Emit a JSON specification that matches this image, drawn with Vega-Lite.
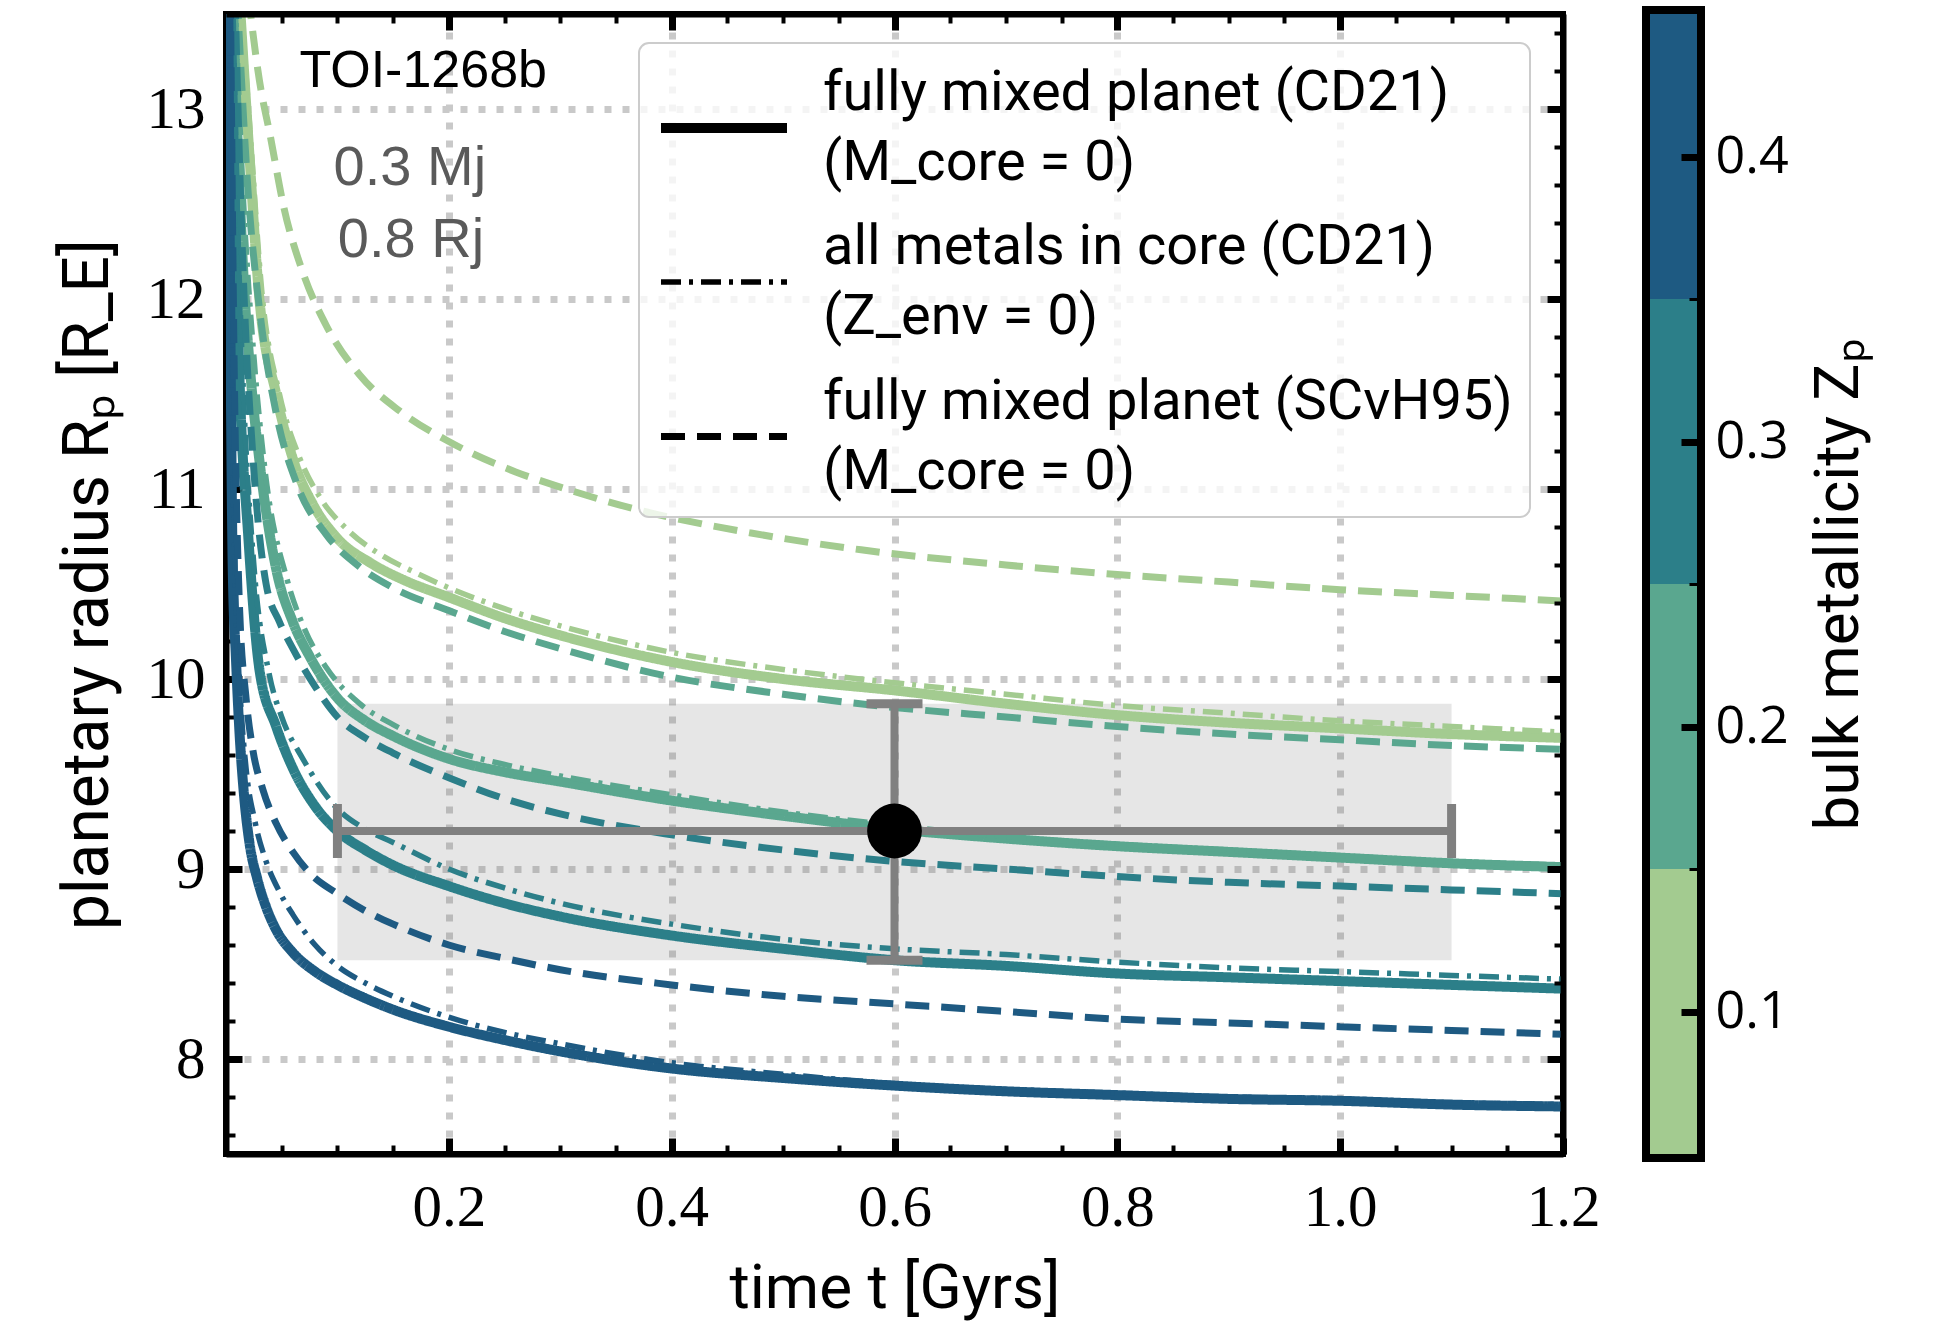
{
  "$schema": "https://vega.github.io/schema/vega-lite/v6.json",
  "padding": {"left": 53, "top": 0, "right": 5, "bottom": 5},
  "background": "white",
  "spacing": 39,
  "resolve": {"scale": {"color": "independent", "strokeDash": "independent", "strokeWidth": "independent"}, "legend": {"strokeDash": "independent", "strokeWidth": "independent", "color": "independent"}},
  "config": {
    "font": "Roboto",
    "view": {"stroke": null},
    "legend": {
      "orient": "none", "legendX": 413, "legendY": 29,
      "fillColor": "rgba(255,255,255,0.8)", "strokeColor": "#cccccc", "strokeWidth": 2, "cornerRadius": 10,
      "padding": 17, "rowPadding": 25, "labelOffset": 31,
      "labelFont": "Roboto", "labelFontSize": 56, "labelColor": "black", "labelLimit": 2000,
      "symbolType": "stroke", "symbolSize": 15876, "symbolStrokeColor": "black", "symbolBaseStrokeColor": "black"
    }
  },
  "hconcat": [
    {
      "width": 1337, "height": 1140,
      "view": {"stroke": "black", "strokeWidth": 6},
      "resolve": {"axis": {"x": "independent", "y": "independent"}},
      "layer": [
        {
          "data": {"values": [{"t": 0.6, "r": 9.2, "tlo": 0.1, "thi": 1.1, "rlo": 8.52, "rhi": 9.87}]},
          "mark": {"type": "rect", "color": "#808080", "opacity": 0.2},
          "encoding": {
            "x": {"field": "tlo", "type": "quantitative", "scale": {"domain": [0, 1.2], "nice": false, "zero": false},
              "axis": {
                "orient": "bottom",
                "values": [0.05,0.1,0.15,0.2,0.25,0.3,0.35,0.4,0.45,0.5,0.55,0.6,0.65,0.7,0.75,0.8,0.85,0.9,0.95,1.0,1.05,1.1,1.15,1.2],
                "labelExpr": "abs(datum.value*5-round(datum.value*5))<0.001 ? format(datum.value,'.1f') : ''",
                "tickSize": {"condition": {"test": "abs(datum.value*5-round(datum.value*5))<0.001", "value": -16}, "value": -9},
                "tickWidth": {"condition": {"test": "abs(datum.value*5-round(datum.value*5))<0.001", "value": 7}, "value": 4},
                "tickColor": "black",
                "grid": true, "gridColor": "#c9c9c9", "gridDash": [7, 11], "gridWidth": 7,
                "gridOpacity": {"condition": {"test": "abs(datum.value*5-round(datum.value*5))<0.001 && datum.value < 1.19", "value": 1}, "value": 0},
                "domain": true, "domainColor": "black", "domainWidth": 6,
                "labelFont": "Liberation Serif", "labelFontSize": 59, "labelColor": "black", "labelPadding": 40,
                "labelOverlap": false, "labelFlush": false,
                "title": "time t [Gyrs]", "titleFont": "Roboto", "titleFontSize": 62, "titleFontWeight": "normal", "titleColor": "black", "titlePadding": 14
              }},
            "x2": {"field": "thi"},
            "y": {"field": "rlo", "type": "quantitative", "scale": {"domain": [7.5, 13.5], "nice": false, "zero": false},
              "axis": {
                "orient": "left",
                "values": [7.6,7.8,8,8.2,8.4,8.6,8.8,9,9.2,9.4,9.6,9.8,10,10.2,10.4,10.6,10.8,11,11.2,11.4,11.6,11.8,12,12.2,12.4,12.6,12.8,13,13.2,13.4],
                "labelExpr": "abs(datum.value-round(datum.value))<0.001 ? format(datum.value,'d') : ''",
                "tickSize": {"condition": {"test": "abs(datum.value-round(datum.value))<0.001", "value": -16}, "value": -9},
                "tickWidth": {"condition": {"test": "abs(datum.value-round(datum.value))<0.001", "value": 7}, "value": 4},
                "tickColor": "black",
                "grid": true, "gridColor": "#c9c9c9", "gridDash": [7, 11], "gridWidth": 7,
                "gridOpacity": {"condition": {"test": "abs(datum.value-round(datum.value))<0.001", "value": 1}, "value": 0},
                "domain": true, "domainColor": "black", "domainWidth": 6,
                "labelFont": "Liberation Serif", "labelFontSize": 59, "labelColor": "black", "labelPadding": 37,
                "labelOverlap": false, "labelFlush": false,
                "title": "planetary radius Rₚ [R_E]", "titleFont": "Roboto", "titleFontSize": 64, "titleFontWeight": "normal", "titleColor": "black", "titlePadding": 26
              }},
            "y2": {"field": "rhi"}
          }
        },
        {
          "data": {"values": [
            {"Z":"0.1","m":"fully mixed planet (CD21)","t":0.012,"r":13.6},
            {"Z":"0.1","m":"fully mixed planet (CD21)","t":0.02,"r":12.85},
            {"Z":"0.1","m":"fully mixed planet (CD21)","t":0.03,"r":12.0},
            {"Z":"0.1","m":"fully mixed planet (CD21)","t":0.045,"r":11.5},
            {"Z":"0.1","m":"fully mixed planet (CD21)","t":0.06,"r":11.16},
            {"Z":"0.1","m":"fully mixed planet (CD21)","t":0.078,"r":10.92},
            {"Z":"0.1","m":"fully mixed planet (CD21)","t":0.1,"r":10.74},
            {"Z":"0.1","m":"fully mixed planet (CD21)","t":0.13,"r":10.61},
            {"Z":"0.1","m":"fully mixed planet (CD21)","t":0.16,"r":10.52},
            {"Z":"0.1","m":"fully mixed planet (CD21)","t":0.2,"r":10.43},
            {"Z":"0.1","m":"fully mixed planet (CD21)","t":0.25,"r":10.32},
            {"Z":"0.1","m":"fully mixed planet (CD21)","t":0.3,"r":10.23},
            {"Z":"0.1","m":"fully mixed planet (CD21)","t":0.4,"r":10.09},
            {"Z":"0.1","m":"fully mixed planet (CD21)","t":0.5,"r":10.0},
            {"Z":"0.1","m":"fully mixed planet (CD21)","t":0.6,"r":9.94},
            {"Z":"0.1","m":"fully mixed planet (CD21)","t":0.7,"r":9.87},
            {"Z":"0.1","m":"fully mixed planet (CD21)","t":0.8,"r":9.81},
            {"Z":"0.1","m":"fully mixed planet (CD21)","t":0.9,"r":9.77},
            {"Z":"0.1","m":"fully mixed planet (CD21)","t":1.0,"r":9.74},
            {"Z":"0.1","m":"fully mixed planet (CD21)","t":1.1,"r":9.71},
            {"Z":"0.1","m":"fully mixed planet (CD21)","t":1.2,"r":9.69},

            {"Z":"0.1","m":"all metals in core (CD21)","t":0.013,"r":13.6},
            {"Z":"0.1","m":"all metals in core (CD21)","t":0.022,"r":12.85},
            {"Z":"0.1","m":"all metals in core (CD21)","t":0.032,"r":12.05},
            {"Z":"0.1","m":"all metals in core (CD21)","t":0.048,"r":11.5},
            {"Z":"0.1","m":"all metals in core (CD21)","t":0.065,"r":11.18},
            {"Z":"0.1","m":"all metals in core (CD21)","t":0.085,"r":10.95},
            {"Z":"0.1","m":"all metals in core (CD21)","t":0.11,"r":10.78},
            {"Z":"0.1","m":"all metals in core (CD21)","t":0.14,"r":10.65},
            {"Z":"0.1","m":"all metals in core (CD21)","t":0.17,"r":10.56},
            {"Z":"0.1","m":"all metals in core (CD21)","t":0.2,"r":10.48},
            {"Z":"0.1","m":"all metals in core (CD21)","t":0.25,"r":10.37},
            {"Z":"0.1","m":"all metals in core (CD21)","t":0.3,"r":10.28},
            {"Z":"0.1","m":"all metals in core (CD21)","t":0.4,"r":10.14},
            {"Z":"0.1","m":"all metals in core (CD21)","t":0.5,"r":10.05},
            {"Z":"0.1","m":"all metals in core (CD21)","t":0.6,"r":9.98},
            {"Z":"0.1","m":"all metals in core (CD21)","t":0.7,"r":9.92},
            {"Z":"0.1","m":"all metals in core (CD21)","t":0.8,"r":9.86},
            {"Z":"0.1","m":"all metals in core (CD21)","t":0.9,"r":9.82},
            {"Z":"0.1","m":"all metals in core (CD21)","t":1.0,"r":9.78},
            {"Z":"0.1","m":"all metals in core (CD21)","t":1.1,"r":9.75},
            {"Z":"0.1","m":"all metals in core (CD21)","t":1.2,"r":9.72},

            {"Z":"0.1","m":"fully mixed planet (SCvH95)","t":0.02,"r":13.6},
            {"Z":"0.1","m":"fully mixed planet (SCvH95)","t":0.03,"r":13.15},
            {"Z":"0.1","m":"fully mixed planet (SCvH95)","t":0.04,"r":12.85},
            {"Z":"0.1","m":"fully mixed planet (SCvH95)","t":0.052,"r":12.48},
            {"Z":"0.1","m":"fully mixed planet (SCvH95)","t":0.069,"r":12.14},
            {"Z":"0.1","m":"fully mixed planet (SCvH95)","t":0.09,"r":11.86},
            {"Z":"0.1","m":"fully mixed planet (SCvH95)","t":0.12,"r":11.6},
            {"Z":"0.1","m":"fully mixed planet (SCvH95)","t":0.156,"r":11.41},
            {"Z":"0.1","m":"fully mixed planet (SCvH95)","t":0.2,"r":11.25},
            {"Z":"0.1","m":"fully mixed planet (SCvH95)","t":0.26,"r":11.09},
            {"Z":"0.1","m":"fully mixed planet (SCvH95)","t":0.3,"r":11.01},
            {"Z":"0.1","m":"fully mixed planet (SCvH95)","t":0.37,"r":10.89},
            {"Z":"0.1","m":"fully mixed planet (SCvH95)","t":0.47,"r":10.77},
            {"Z":"0.1","m":"fully mixed planet (SCvH95)","t":0.57,"r":10.68},
            {"Z":"0.1","m":"fully mixed planet (SCvH95)","t":0.7,"r":10.6},
            {"Z":"0.1","m":"fully mixed planet (SCvH95)","t":0.8,"r":10.55},
            {"Z":"0.1","m":"fully mixed planet (SCvH95)","t":0.9,"r":10.51},
            {"Z":"0.1","m":"fully mixed planet (SCvH95)","t":1.0,"r":10.47},
            {"Z":"0.1","m":"fully mixed planet (SCvH95)","t":1.1,"r":10.44},
            {"Z":"0.1","m":"fully mixed planet (SCvH95)","t":1.2,"r":10.41},

            {"Z":"0.2","m":"fully mixed planet (CD21)","t":0.006,"r":13.6},
            {"Z":"0.2","m":"fully mixed planet (CD21)","t":0.01,"r":12.9},
            {"Z":"0.2","m":"fully mixed planet (CD21)","t":0.015,"r":12.2},
            {"Z":"0.2","m":"fully mixed planet (CD21)","t":0.022,"r":11.6},
            {"Z":"0.2","m":"fully mixed planet (CD21)","t":0.03,"r":11.15},
            {"Z":"0.2","m":"fully mixed planet (CD21)","t":0.045,"r":10.58},
            {"Z":"0.2","m":"fully mixed planet (CD21)","t":0.06,"r":10.3},
            {"Z":"0.2","m":"fully mixed planet (CD21)","t":0.075,"r":10.12},
            {"Z":"0.2","m":"fully mixed planet (CD21)","t":0.1,"r":9.9},
            {"Z":"0.2","m":"fully mixed planet (CD21)","t":0.125,"r":9.78},
            {"Z":"0.2","m":"fully mixed planet (CD21)","t":0.15,"r":9.7},
            {"Z":"0.2","m":"fully mixed planet (CD21)","t":0.2,"r":9.58},
            {"Z":"0.2","m":"fully mixed planet (CD21)","t":0.25,"r":9.51},
            {"Z":"0.2","m":"fully mixed planet (CD21)","t":0.3,"r":9.46},
            {"Z":"0.2","m":"fully mixed planet (CD21)","t":0.4,"r":9.36},
            {"Z":"0.2","m":"fully mixed planet (CD21)","t":0.5,"r":9.28},
            {"Z":"0.2","m":"fully mixed planet (CD21)","t":0.6,"r":9.21},
            {"Z":"0.2","m":"fully mixed planet (CD21)","t":0.7,"r":9.16},
            {"Z":"0.2","m":"fully mixed planet (CD21)","t":0.8,"r":9.12},
            {"Z":"0.2","m":"fully mixed planet (CD21)","t":0.9,"r":9.09},
            {"Z":"0.2","m":"fully mixed planet (CD21)","t":1.0,"r":9.06},
            {"Z":"0.2","m":"fully mixed planet (CD21)","t":1.1,"r":9.03},
            {"Z":"0.2","m":"fully mixed planet (CD21)","t":1.2,"r":9.01},

            {"Z":"0.2","m":"all metals in core (CD21)","t":0.008,"r":13.6},
            {"Z":"0.2","m":"all metals in core (CD21)","t":0.015,"r":12.6},
            {"Z":"0.2","m":"all metals in core (CD21)","t":0.025,"r":11.7},
            {"Z":"0.2","m":"all metals in core (CD21)","t":0.035,"r":11.1},
            {"Z":"0.2","m":"all metals in core (CD21)","t":0.055,"r":10.52},
            {"Z":"0.2","m":"all metals in core (CD21)","t":0.07,"r":10.27},
            {"Z":"0.2","m":"all metals in core (CD21)","t":0.09,"r":10.06},
            {"Z":"0.2","m":"all metals in core (CD21)","t":0.12,"r":9.87},
            {"Z":"0.2","m":"all metals in core (CD21)","t":0.15,"r":9.76},
            {"Z":"0.2","m":"all metals in core (CD21)","t":0.2,"r":9.63},
            {"Z":"0.2","m":"all metals in core (CD21)","t":0.25,"r":9.55},
            {"Z":"0.2","m":"all metals in core (CD21)","t":0.3,"r":9.49},
            {"Z":"0.2","m":"all metals in core (CD21)","t":0.4,"r":9.39},
            {"Z":"0.2","m":"all metals in core (CD21)","t":0.5,"r":9.3},
            {"Z":"0.2","m":"all metals in core (CD21)","t":0.6,"r":9.23},
            {"Z":"0.2","m":"all metals in core (CD21)","t":0.7,"r":9.17},
            {"Z":"0.2","m":"all metals in core (CD21)","t":0.8,"r":9.13},
            {"Z":"0.2","m":"all metals in core (CD21)","t":0.9,"r":9.1},
            {"Z":"0.2","m":"all metals in core (CD21)","t":1.0,"r":9.07},
            {"Z":"0.2","m":"all metals in core (CD21)","t":1.1,"r":9.04},
            {"Z":"0.2","m":"all metals in core (CD21)","t":1.2,"r":9.02},

            {"Z":"0.2","m":"fully mixed planet (SCvH95)","t":0.01,"r":13.6},
            {"Z":"0.2","m":"fully mixed planet (SCvH95)","t":0.02,"r":12.55},
            {"Z":"0.2","m":"fully mixed planet (SCvH95)","t":0.03,"r":11.95},
            {"Z":"0.2","m":"fully mixed planet (SCvH95)","t":0.045,"r":11.4},
            {"Z":"0.2","m":"fully mixed planet (SCvH95)","t":0.064,"r":11.02},
            {"Z":"0.2","m":"fully mixed planet (SCvH95)","t":0.09,"r":10.76},
            {"Z":"0.2","m":"fully mixed planet (SCvH95)","t":0.12,"r":10.59},
            {"Z":"0.2","m":"fully mixed planet (SCvH95)","t":0.15,"r":10.48},
            {"Z":"0.2","m":"fully mixed planet (SCvH95)","t":0.2,"r":10.36},
            {"Z":"0.2","m":"fully mixed planet (SCvH95)","t":0.25,"r":10.25},
            {"Z":"0.2","m":"fully mixed planet (SCvH95)","t":0.3,"r":10.16},
            {"Z":"0.2","m":"fully mixed planet (SCvH95)","t":0.4,"r":10.01},
            {"Z":"0.2","m":"fully mixed planet (SCvH95)","t":0.5,"r":9.92},
            {"Z":"0.2","m":"fully mixed planet (SCvH95)","t":0.6,"r":9.85},
            {"Z":"0.2","m":"fully mixed planet (SCvH95)","t":0.7,"r":9.8},
            {"Z":"0.2","m":"fully mixed planet (SCvH95)","t":0.8,"r":9.75},
            {"Z":"0.2","m":"fully mixed planet (SCvH95)","t":0.9,"r":9.71},
            {"Z":"0.2","m":"fully mixed planet (SCvH95)","t":1.0,"r":9.68},
            {"Z":"0.2","m":"fully mixed planet (SCvH95)","t":1.1,"r":9.65},
            {"Z":"0.2","m":"fully mixed planet (SCvH95)","t":1.2,"r":9.63},

            {"Z":"0.3","m":"fully mixed planet (CD21)","t":0.004,"r":13.6},
            {"Z":"0.3","m":"fully mixed planet (CD21)","t":0.008,"r":12.5},
            {"Z":"0.3","m":"fully mixed planet (CD21)","t":0.012,"r":11.6},
            {"Z":"0.3","m":"fully mixed planet (CD21)","t":0.02,"r":10.75},
            {"Z":"0.3","m":"fully mixed planet (CD21)","t":0.03,"r":10.05},
            {"Z":"0.3","m":"fully mixed planet (CD21)","t":0.045,"r":9.75},
            {"Z":"0.3","m":"fully mixed planet (CD21)","t":0.06,"r":9.53},
            {"Z":"0.3","m":"fully mixed planet (CD21)","t":0.08,"r":9.33},
            {"Z":"0.3","m":"fully mixed planet (CD21)","t":0.1,"r":9.2},
            {"Z":"0.3","m":"fully mixed planet (CD21)","t":0.125,"r":9.1},
            {"Z":"0.3","m":"fully mixed planet (CD21)","t":0.15,"r":9.02},
            {"Z":"0.3","m":"fully mixed planet (CD21)","t":0.2,"r":8.91},
            {"Z":"0.3","m":"fully mixed planet (CD21)","t":0.25,"r":8.82},
            {"Z":"0.3","m":"fully mixed planet (CD21)","t":0.3,"r":8.75},
            {"Z":"0.3","m":"fully mixed planet (CD21)","t":0.4,"r":8.65},
            {"Z":"0.3","m":"fully mixed planet (CD21)","t":0.5,"r":8.58},
            {"Z":"0.3","m":"fully mixed planet (CD21)","t":0.6,"r":8.52},
            {"Z":"0.3","m":"fully mixed planet (CD21)","t":0.7,"r":8.49},
            {"Z":"0.3","m":"fully mixed planet (CD21)","t":0.8,"r":8.45},
            {"Z":"0.3","m":"fully mixed planet (CD21)","t":0.9,"r":8.43},
            {"Z":"0.3","m":"fully mixed planet (CD21)","t":1.0,"r":8.41},
            {"Z":"0.3","m":"fully mixed planet (CD21)","t":1.1,"r":8.39},
            {"Z":"0.3","m":"fully mixed planet (CD21)","t":1.2,"r":8.37},

            {"Z":"0.3","m":"all metals in core (CD21)","t":0.006,"r":13.6},
            {"Z":"0.3","m":"all metals in core (CD21)","t":0.01,"r":12.5},
            {"Z":"0.3","m":"all metals in core (CD21)","t":0.015,"r":11.6},
            {"Z":"0.3","m":"all metals in core (CD21)","t":0.025,"r":10.6},
            {"Z":"0.3","m":"all metals in core (CD21)","t":0.039,"r":10.02},
            {"Z":"0.3","m":"all metals in core (CD21)","t":0.05,"r":9.8},
            {"Z":"0.3","m":"all metals in core (CD21)","t":0.069,"r":9.58},
            {"Z":"0.3","m":"all metals in core (CD21)","t":0.098,"r":9.33},
            {"Z":"0.3","m":"all metals in core (CD21)","t":0.125,"r":9.21},
            {"Z":"0.3","m":"all metals in core (CD21)","t":0.15,"r":9.14},
            {"Z":"0.3","m":"all metals in core (CD21)","t":0.2,"r":9.0},
            {"Z":"0.3","m":"all metals in core (CD21)","t":0.25,"r":8.9},
            {"Z":"0.3","m":"all metals in core (CD21)","t":0.3,"r":8.82},
            {"Z":"0.3","m":"all metals in core (CD21)","t":0.4,"r":8.71},
            {"Z":"0.3","m":"all metals in core (CD21)","t":0.5,"r":8.63},
            {"Z":"0.3","m":"all metals in core (CD21)","t":0.6,"r":8.58},
            {"Z":"0.3","m":"all metals in core (CD21)","t":0.7,"r":8.55},
            {"Z":"0.3","m":"all metals in core (CD21)","t":0.8,"r":8.51},
            {"Z":"0.3","m":"all metals in core (CD21)","t":0.9,"r":8.48},
            {"Z":"0.3","m":"all metals in core (CD21)","t":1.0,"r":8.46},
            {"Z":"0.3","m":"all metals in core (CD21)","t":1.1,"r":8.44},
            {"Z":"0.3","m":"all metals in core (CD21)","t":1.2,"r":8.42},

            {"Z":"0.3","m":"fully mixed planet (SCvH95)","t":0.008,"r":13.6},
            {"Z":"0.3","m":"fully mixed planet (SCvH95)","t":0.015,"r":12.2},
            {"Z":"0.3","m":"fully mixed planet (SCvH95)","t":0.025,"r":11.1},
            {"Z":"0.3","m":"fully mixed planet (SCvH95)","t":0.036,"r":10.5},
            {"Z":"0.3","m":"fully mixed planet (SCvH95)","t":0.048,"r":10.3},
            {"Z":"0.3","m":"fully mixed planet (SCvH95)","t":0.06,"r":10.16},
            {"Z":"0.3","m":"fully mixed planet (SCvH95)","t":0.08,"r":9.96},
            {"Z":"0.3","m":"fully mixed planet (SCvH95)","t":0.1,"r":9.8},
            {"Z":"0.3","m":"fully mixed planet (SCvH95)","t":0.125,"r":9.69},
            {"Z":"0.3","m":"fully mixed planet (SCvH95)","t":0.15,"r":9.61},
            {"Z":"0.3","m":"fully mixed planet (SCvH95)","t":0.2,"r":9.48},
            {"Z":"0.3","m":"fully mixed planet (SCvH95)","t":0.25,"r":9.37},
            {"Z":"0.3","m":"fully mixed planet (SCvH95)","t":0.3,"r":9.29},
            {"Z":"0.3","m":"fully mixed planet (SCvH95)","t":0.4,"r":9.18},
            {"Z":"0.3","m":"fully mixed planet (SCvH95)","t":0.5,"r":9.1},
            {"Z":"0.3","m":"fully mixed planet (SCvH95)","t":0.6,"r":9.04},
            {"Z":"0.3","m":"fully mixed planet (SCvH95)","t":0.7,"r":9.0},
            {"Z":"0.3","m":"fully mixed planet (SCvH95)","t":0.8,"r":8.96},
            {"Z":"0.3","m":"fully mixed planet (SCvH95)","t":0.9,"r":8.93},
            {"Z":"0.3","m":"fully mixed planet (SCvH95)","t":1.0,"r":8.91},
            {"Z":"0.3","m":"fully mixed planet (SCvH95)","t":1.1,"r":8.89},
            {"Z":"0.3","m":"fully mixed planet (SCvH95)","t":1.2,"r":8.87},

            {"Z":"0.4","m":"fully mixed planet (CD21)","t":0.002,"r":13.6},
            {"Z":"0.4","m":"fully mixed planet (CD21)","t":0.004,"r":11.8},
            {"Z":"0.4","m":"fully mixed planet (CD21)","t":0.006,"r":10.6},
            {"Z":"0.4","m":"fully mixed planet (CD21)","t":0.009,"r":10.1},
            {"Z":"0.4","m":"fully mixed planet (CD21)","t":0.012,"r":9.73},
            {"Z":"0.4","m":"fully mixed planet (CD21)","t":0.016,"r":9.4},
            {"Z":"0.4","m":"fully mixed planet (CD21)","t":0.021,"r":9.14},
            {"Z":"0.4","m":"fully mixed planet (CD21)","t":0.028,"r":8.95},
            {"Z":"0.4","m":"fully mixed planet (CD21)","t":0.036,"r":8.8},
            {"Z":"0.4","m":"fully mixed planet (CD21)","t":0.045,"r":8.68},
            {"Z":"0.4","m":"fully mixed planet (CD21)","t":0.06,"r":8.56},
            {"Z":"0.4","m":"fully mixed planet (CD21)","t":0.08,"r":8.46},
            {"Z":"0.4","m":"fully mixed planet (CD21)","t":0.1,"r":8.39},
            {"Z":"0.4","m":"fully mixed planet (CD21)","t":0.125,"r":8.32},
            {"Z":"0.4","m":"fully mixed planet (CD21)","t":0.15,"r":8.26},
            {"Z":"0.4","m":"fully mixed planet (CD21)","t":0.2,"r":8.17},
            {"Z":"0.4","m":"fully mixed planet (CD21)","t":0.25,"r":8.1},
            {"Z":"0.4","m":"fully mixed planet (CD21)","t":0.3,"r":8.04},
            {"Z":"0.4","m":"fully mixed planet (CD21)","t":0.4,"r":7.95},
            {"Z":"0.4","m":"fully mixed planet (CD21)","t":0.5,"r":7.9},
            {"Z":"0.4","m":"fully mixed planet (CD21)","t":0.6,"r":7.86},
            {"Z":"0.4","m":"fully mixed planet (CD21)","t":0.7,"r":7.83},
            {"Z":"0.4","m":"fully mixed planet (CD21)","t":0.8,"r":7.81},
            {"Z":"0.4","m":"fully mixed planet (CD21)","t":0.9,"r":7.79},
            {"Z":"0.4","m":"fully mixed planet (CD21)","t":1.0,"r":7.78},
            {"Z":"0.4","m":"fully mixed planet (CD21)","t":1.1,"r":7.76},
            {"Z":"0.4","m":"fully mixed planet (CD21)","t":1.2,"r":7.75},

            {"Z":"0.4","m":"all metals in core (CD21)","t":0.003,"r":13.6},
            {"Z":"0.4","m":"all metals in core (CD21)","t":0.005,"r":11.8},
            {"Z":"0.4","m":"all metals in core (CD21)","t":0.008,"r":10.6},
            {"Z":"0.4","m":"all metals in core (CD21)","t":0.012,"r":10.0},
            {"Z":"0.4","m":"all metals in core (CD21)","t":0.018,"r":9.53},
            {"Z":"0.4","m":"all metals in core (CD21)","t":0.026,"r":9.25},
            {"Z":"0.4","m":"all metals in core (CD21)","t":0.036,"r":9.04},
            {"Z":"0.4","m":"all metals in core (CD21)","t":0.048,"r":8.88},
            {"Z":"0.4","m":"all metals in core (CD21)","t":0.06,"r":8.76},
            {"Z":"0.4","m":"all metals in core (CD21)","t":0.08,"r":8.6},
            {"Z":"0.4","m":"all metals in core (CD21)","t":0.1,"r":8.49},
            {"Z":"0.4","m":"all metals in core (CD21)","t":0.125,"r":8.4},
            {"Z":"0.4","m":"all metals in core (CD21)","t":0.15,"r":8.33},
            {"Z":"0.4","m":"all metals in core (CD21)","t":0.2,"r":8.22},
            {"Z":"0.4","m":"all metals in core (CD21)","t":0.25,"r":8.14},
            {"Z":"0.4","m":"all metals in core (CD21)","t":0.3,"r":8.08},
            {"Z":"0.4","m":"all metals in core (CD21)","t":0.4,"r":7.98},
            {"Z":"0.4","m":"all metals in core (CD21)","t":0.5,"r":7.92},
            {"Z":"0.4","m":"all metals in core (CD21)","t":0.6,"r":7.87},
            {"Z":"0.4","m":"all metals in core (CD21)","t":0.7,"r":7.84},
            {"Z":"0.4","m":"all metals in core (CD21)","t":0.8,"r":7.82},
            {"Z":"0.4","m":"all metals in core (CD21)","t":0.9,"r":7.8},
            {"Z":"0.4","m":"all metals in core (CD21)","t":1.0,"r":7.79},
            {"Z":"0.4","m":"all metals in core (CD21)","t":1.1,"r":7.77},
            {"Z":"0.4","m":"all metals in core (CD21)","t":1.2,"r":7.76},

            {"Z":"0.4","m":"fully mixed planet (SCvH95)","t":0.004,"r":13.6},
            {"Z":"0.4","m":"fully mixed planet (SCvH95)","t":0.007,"r":11.8},
            {"Z":"0.4","m":"fully mixed planet (SCvH95)","t":0.012,"r":10.4},
            {"Z":"0.4","m":"fully mixed planet (SCvH95)","t":0.018,"r":9.9},
            {"Z":"0.4","m":"fully mixed planet (SCvH95)","t":0.024,"r":9.63},
            {"Z":"0.4","m":"fully mixed planet (SCvH95)","t":0.033,"r":9.42},
            {"Z":"0.4","m":"fully mixed planet (SCvH95)","t":0.045,"r":9.24},
            {"Z":"0.4","m":"fully mixed planet (SCvH95)","t":0.06,"r":9.09},
            {"Z":"0.4","m":"fully mixed planet (SCvH95)","t":0.075,"r":8.98},
            {"Z":"0.4","m":"fully mixed planet (SCvH95)","t":0.1,"r":8.87},
            {"Z":"0.4","m":"fully mixed planet (SCvH95)","t":0.125,"r":8.78},
            {"Z":"0.4","m":"fully mixed planet (SCvH95)","t":0.15,"r":8.71},
            {"Z":"0.4","m":"fully mixed planet (SCvH95)","t":0.2,"r":8.6},
            {"Z":"0.4","m":"fully mixed planet (SCvH95)","t":0.25,"r":8.53},
            {"Z":"0.4","m":"fully mixed planet (SCvH95)","t":0.3,"r":8.47},
            {"Z":"0.4","m":"fully mixed planet (SCvH95)","t":0.4,"r":8.39},
            {"Z":"0.4","m":"fully mixed planet (SCvH95)","t":0.5,"r":8.33},
            {"Z":"0.4","m":"fully mixed planet (SCvH95)","t":0.6,"r":8.29},
            {"Z":"0.4","m":"fully mixed planet (SCvH95)","t":0.7,"r":8.25},
            {"Z":"0.4","m":"fully mixed planet (SCvH95)","t":0.8,"r":8.21},
            {"Z":"0.4","m":"fully mixed planet (SCvH95)","t":0.9,"r":8.19},
            {"Z":"0.4","m":"fully mixed planet (SCvH95)","t":1.0,"r":8.17},
            {"Z":"0.4","m":"fully mixed planet (SCvH95)","t":1.1,"r":8.15},
            {"Z":"0.4","m":"fully mixed planet (SCvH95)","t":1.2,"r":8.13}
          ]},
          "mark": {"type": "line", "clip": true, "interpolate": "monotone"},
          "encoding": {
            "x": {"field": "t", "type": "quantitative", "scale": {"domain": [0, 1.2], "nice": false, "zero": false},
              "axis": {
                "orient": "top",
                "values": [0.05,0.1,0.15,0.2,0.25,0.3,0.35,0.4,0.45,0.5,0.55,0.6,0.65,0.7,0.75,0.8,0.85,0.9,0.95,1.0,1.05,1.1,1.15],
                "labels": false, "grid": false, "title": null, "zindex": 1,
                "tickSize": {"condition": {"test": "abs(datum.value*5-round(datum.value*5))<0.001", "value": -16}, "value": -9},
                "tickWidth": {"condition": {"test": "abs(datum.value*5-round(datum.value*5))<0.001", "value": 7}, "value": 4},
                "tickColor": "black", "domain": true, "domainColor": "black", "domainWidth": 6
              }},
            "y": {"field": "r", "type": "quantitative", "scale": {"domain": [7.5, 13.5], "nice": false, "zero": false},
              "axis": {
                "orient": "right",
                "values": [7.6,7.8,8,8.2,8.4,8.6,8.8,9,9.2,9.4,9.6,9.8,10,10.2,10.4,10.6,10.8,11,11.2,11.4,11.6,11.8,12,12.2,12.4,12.6,12.8,13,13.2,13.4],
                "labels": false, "grid": false, "title": null, "zindex": 1,
                "tickSize": {"condition": {"test": "abs(datum.value-round(datum.value))<0.001", "value": -16}, "value": -9},
                "tickWidth": {"condition": {"test": "abs(datum.value-round(datum.value))<0.001", "value": 7}, "value": 4},
                "tickColor": "black", "domain": true, "domainColor": "black", "domainWidth": 6
              }},
            "color": {"field": "Z", "type": "nominal", "scale": {"domain": ["0.1", "0.2", "0.3", "0.4"], "range": ["#a3cb90", "#5aa78f", "#2c7f89", "#1e5a82"]}, "legend": null},
            "strokeDash": {"field": "m", "type": "nominal",
              "scale": {"domain": ["fully mixed planet (CD21)", "all metals in core (CD21)", "fully mixed planet (SCvH95)"], "range": [[1, 0], [20, 8, 4, 8], [24, 12]]},
              "legend": {"title": null, "labelExpr": "[datum.label, datum.label == 'all metals in core (CD21)' ? '(Z_env = 0)' : '(M_core = 0)']", "encoding": {"labels": {"lineHeight": {"value": 70}, "dy": {"value": -35}}}}},
            "strokeWidth": {"field": "m", "type": "nominal",
              "scale": {"type": "ordinal", "domain": ["fully mixed planet (CD21)", "all metals in core (CD21)", "fully mixed planet (SCvH95)"], "range": [10, 5.5, 7]},
              "legend": {"title": null, "labelExpr": "[datum.label, datum.label == 'all metals in core (CD21)' ? '(Z_env = 0)' : '(M_core = 0)']", "encoding": {"labels": {"lineHeight": {"value": 70}, "dy": {"value": -35}}}}}
          }
        },
        {
          "data": {"values": [{"t": 0.6, "r": 9.2, "tlo": 0.1, "thi": 1.1, "rlo": 8.52, "rhi": 9.87}]},
          "layer": [
            {"mark": {"type": "rule", "color": "#808080", "strokeWidth": 8},
             "encoding": {
               "x": {"field": "tlo", "type": "quantitative", "scale": {"domain": [0, 1.2]}, "axis": null},
               "x2": {"field": "thi"},
               "y": {"field": "r", "type": "quantitative", "scale": {"domain": [7.5, 13.5]}, "axis": null}}},
            {"mark": {"type": "rule", "color": "#808080", "strokeWidth": 8},
             "encoding": {
               "x": {"field": "t", "type": "quantitative", "scale": {"domain": [0, 1.2]}, "axis": null},
               "y": {"field": "rlo", "type": "quantitative", "scale": {"domain": [7.5, 13.5]}, "axis": null},
               "y2": {"field": "rhi"}}},
            {"mark": {"type": "tick", "color": "#808080", "orient": "vertical", "size": 54, "thickness": 9, "opacity": 1},
             "encoding": {
               "x": {"field": "tlo", "type": "quantitative", "scale": {"domain": [0, 1.2]}, "axis": null},
               "y": {"field": "r", "type": "quantitative", "scale": {"domain": [7.5, 13.5]}, "axis": null}}},
            {"mark": {"type": "tick", "color": "#808080", "orient": "vertical", "size": 54, "thickness": 9, "opacity": 1},
             "encoding": {
               "x": {"field": "thi", "type": "quantitative", "scale": {"domain": [0, 1.2]}, "axis": null},
               "y": {"field": "r", "type": "quantitative", "scale": {"domain": [7.5, 13.5]}, "axis": null}}},
            {"mark": {"type": "tick", "color": "#808080", "orient": "horizontal", "size": 56, "thickness": 9, "opacity": 1},
             "encoding": {
               "x": {"field": "t", "type": "quantitative", "scale": {"domain": [0, 1.2]}, "axis": null},
               "y": {"field": "rlo", "type": "quantitative", "scale": {"domain": [7.5, 13.5]}, "axis": null}}},
            {"mark": {"type": "tick", "color": "#808080", "orient": "horizontal", "size": 56, "thickness": 9, "opacity": 1},
             "encoding": {
               "x": {"field": "t", "type": "quantitative", "scale": {"domain": [0, 1.2]}, "axis": null},
               "y": {"field": "rhi", "type": "quantitative", "scale": {"domain": [7.5, 13.5]}, "axis": null}}},
            {"mark": {"type": "point", "filled": true, "color": "black", "size": 3000, "opacity": 1},
             "encoding": {
               "x": {"field": "t", "type": "quantitative", "scale": {"domain": [0, 1.2]}, "axis": null},
               "y": {"field": "r", "type": "quantitative", "scale": {"domain": [7.5, 13.5]}, "axis": null}}}
          ]
        },
        {
          "data": {"values": [{"t": 0.177, "r": 13.2, "label": "TOI-1268b"}]},
          "mark": {"type": "text", "font": "Liberation Sans", "fontSize": 52, "color": "black", "align": "center", "baseline": "middle"},
          "encoding": {
            "x": {"field": "t", "type": "quantitative", "scale": {"domain": [0, 1.2]}, "axis": null},
            "y": {"field": "r", "type": "quantitative", "scale": {"domain": [7.5, 13.5]}, "axis": null},
            "text": {"field": "label"}
          }
        },
        {
          "data": {"values": [{"t": 0.165, "r": 12.69, "label": "0.3 Mj"}, {"t": 0.166, "r": 12.31, "label": "0.8 Rj"}]},
          "mark": {"type": "text", "font": "Liberation Sans", "fontSize": 56, "color": "#5a5a5a", "align": "center", "baseline": "middle"},
          "encoding": {
            "x": {"field": "t", "type": "quantitative", "scale": {"domain": [0, 1.2]}, "axis": null},
            "y": {"field": "r", "type": "quantitative", "scale": {"domain": [7.5, 13.5]}, "axis": null},
            "text": {"field": "label"}
          }
        }
      ]
    },
    {
      "width": 47, "height": 1140,
      "view": {"stroke": "black", "strokeWidth": 16},
      "data": {"values": [
        {"Z": "0.1", "lo": 0.05, "hi": 0.15},
        {"Z": "0.2", "lo": 0.15, "hi": 0.25},
        {"Z": "0.3", "lo": 0.25, "hi": 0.35},
        {"Z": "0.4", "lo": 0.35, "hi": 0.45}
      ]},
      "mark": {"type": "rect"},
      "encoding": {
        "y": {"field": "lo", "type": "quantitative", "scale": {"domain": [0.05, 0.45], "nice": false, "zero": false},
          "axis": {
            "orient": "right",
            "values": [0.1, 0.15, 0.2, 0.25, 0.3, 0.35, 0.4],
            "labelExpr": "abs(datum.value*10-round(datum.value*10))<0.001 ? format(datum.value,'.1f') : ''",
            "tickSize": {"condition": {"test": "abs(datum.value*10-round(datum.value*10))<0.001", "value": -16}, "value": -8},
            "tickWidth": {"condition": {"test": "abs(datum.value*10-round(datum.value*10))<0.001", "value": 7}, "value": 3},
            "tickColor": "black", "domain": false, "grid": false, "zindex": 1,
            "labelFont": "Open Sans", "labelFontSize": 52, "labelColor": "black", "labelPadding": 34, "labelOverlap": false,
            "title": "bulk metallicity Zₚ", "titleAngle": 270, "titleBaseline": "top", "titleFont": "Roboto", "titleFontSize": 62, "titleFontWeight": "normal", "titleColor": "black", "titlePadding": 20
          }},
        "y2": {"field": "hi"},
        "color": {"field": "Z", "type": "nominal", "scale": {"domain": ["0.1", "0.2", "0.3", "0.4"], "range": ["#a3cb90", "#5aa78f", "#2c7f89", "#1e5a82"]}, "legend": null}
      }
    }
  ]
}
